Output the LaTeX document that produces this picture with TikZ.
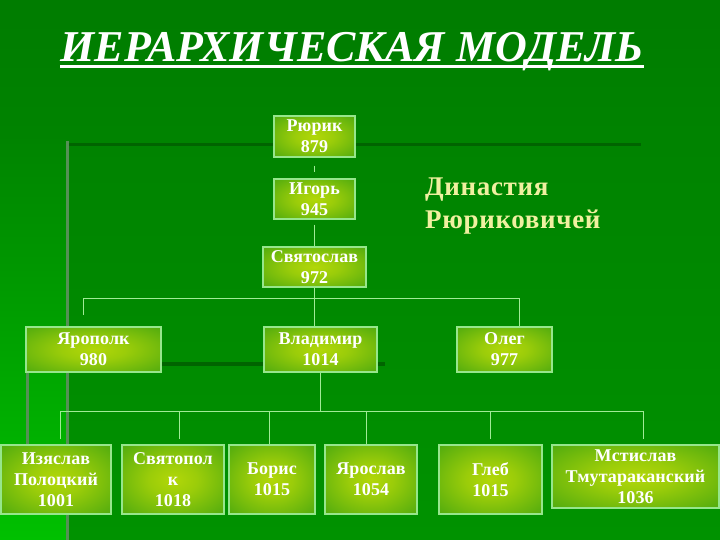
\documentclass[tikz,border=0pt]{standalone}
\usepackage{fontspec}
\setmainfont{Liberation Serif}
\newfontfamily\boxfont[LetterSpace=0.5]{Liberation Serif}
\newfontfamily\dynfont[LetterSpace=2.5]{Liberation Serif}
\usetikzlibrary{calc}
\definecolor{bgtop}{RGB}{0,124,0}
\definecolor{bgbot}{RGB}{0,152,0}
\definecolor{lefttop}{RGB}{0,132,0}
\definecolor{leftbot}{RGB}{0,192,0}
\definecolor{paneltop}{RGB}{0,131,0}
\definecolor{panelbot}{RGB}{0,146,0}
\definecolor{darkline}{RGB}{0,100,0}
\definecolor{grayline}{RGB}{85,145,85}
\definecolor{boxin}{RGB}{178,215,8}
\definecolor{boxout}{RGB}{22,145,18}
\definecolor{boxedge}{RGB}{150,230,140}
\definecolor{conn}{RGB}{160,235,150}
\definecolor{dyn}{RGB}{240,240,160}
\pgfdeclareradialshading{boxglow}{\pgfpoint{0bp}{0bp}}{color(0bp)=(boxin); color(12bp)=(boxin!85!boxout); color(54bp)=(boxout); color(75bp)=(boxout)}
\tikzset{
  person/.style={draw=boxedge, line width=1.3pt, shading=boxglow, text=white,
    align=center, inner sep=0pt, font=\boxfont\bfseries\fontsize{18}{21}\selectfont},
  link/.style={draw=conn, line width=1pt},
  dynlabel/.style={anchor=base west, inner sep=0pt, text=dyn,
    font=\dynfont\bfseries\fontsize{27}{33}\selectfont},
}
\begin{document}
\begin{tikzpicture}[x=1pt,y=-1pt]
\useasboundingbox (0,0) rectangle (720,540);
% background
\shade[top color=bgtop, bottom color=bgbot] (0,0) rectangle (720,540);
\shade[top color=lefttop, bottom color=leftbot] (0,140) rectangle (67,540);
\shade[top color=paneltop, bottom color=panelbot] (67,143) rectangle (720,540);
\draw[darkline, line width=3pt] (67,145) -- (641,145);
\draw[darkline, line width=4pt] (161,364) -- (385,364);
\draw[grayline, line width=3pt] (67,141) -- (67,540);
\draw[grayline, line width=3pt] (27,372) -- (27,445);

% title
\node[anchor=base, inner sep=0pt, text=white,
  font=\bfseries\itshape\fontsize{44}{48}\selectfont] (title) at (352,62) {ИЕРАРХИЧЕСКАЯ МОДЕЛЬ};
\draw[white, line width=3pt] ($(title.base west)+(0,5)$) -- ($(title.base east)+(0,5)$);

% dynasty label
\node[dynlabel] (dyn1) at (425,196) {Династия};
\node[dynlabel] (dyn2) at (425,229) {Рюриковичей};

% nodes
\node[person, minimum width=81, minimum height=41] (rurik) at (314.5,136.5) {Рюрик\\879};
\node[person, minimum width=81, minimum height=40] (igor) at (314.5,199) {Игорь\\945};
\node[person, minimum width=103, minimum height=40] (svyat) at (314.5,267) {Святослав\\972};
\node[person, minimum width=135, minimum height=45] (yaropolk) at (93.5,349.5) {Ярополк\\980};
\node[person, minimum width=113, minimum height=45] (vladimir) at (320.5,349.5) {Владимир\\1014};
\node[person, minimum width=95, minimum height=45] (oleg) at (504.5,349.5) {Олег\\977};
\node[person, minimum width=110, minimum height=69] (izyaslav) at (56,479.5) {Изяслав\\Полоцкий\\1001};
\node[person, minimum width=102, minimum height=69] (svyatopolk) at (173,479.5) {Святопол\\к\\1018};
\node[person, minimum width=86, minimum height=69] (boris) at (272,479.5) {Борис\\1015};
\node[person, minimum width=92, minimum height=69] (yaroslav) at (371,479.5) {Ярослав\\1054};
\node[person, minimum width=103, minimum height=69] (gleb) at (490.5,479.5) {Глеб\\1015};
\node[person, minimum width=167, minimum height=63] (mstislav) at (635.5,476.5) {Мстислав\\Тмутараканский\\1036};

% connectors
\draw[link, shorten <=8pt, shorten >=6pt] (rurik.south) -- (igor.north);
\draw[link, shorten <=5pt] (igor.south) -- (svyat.north);
\coordinate (b1) at (83,298);
\coordinate (b2) at (519,298);
\draw[link] (b1) -- (b2);
\draw[link] (svyat.south) -- (svyat.south |- vladimir.north);
\draw[link] (b2) -- (b2 |- oleg.north);
\coordinate (y1) at (83,315);
\draw[link] (b1) -- (y1);
\coordinate (c1) at (60,411);
\coordinate (c2) at (643,411);
\draw[link] (c1) -- (c2);
\draw[link] (vladimir.south) -- (vladimir.south |- c1);
\coordinate (d1) at (60,411);
\coordinate (d2) at (179,411);
\coordinate (d3) at (269,411);
\coordinate (d4) at (366,411);
\coordinate (d5) at (490,411);
\coordinate (d6) at (643,411);
\draw[link, shorten >=5pt] (d1) -- (d1 |- izyaslav.north);
\draw[link, shorten >=5pt] (d2) -- (d2 |- svyatopolk.north);
\draw[link] (d3) -- (d3 |- boris.north);
\draw[link] (d4) -- (d4 |- yaroslav.north);
\draw[link, shorten >=5pt] (d5) -- (d5 |- gleb.north);
\draw[link, shorten >=5pt] (d6) -- (d6 |- mstislav.north);
\end{tikzpicture}
\end{document}
